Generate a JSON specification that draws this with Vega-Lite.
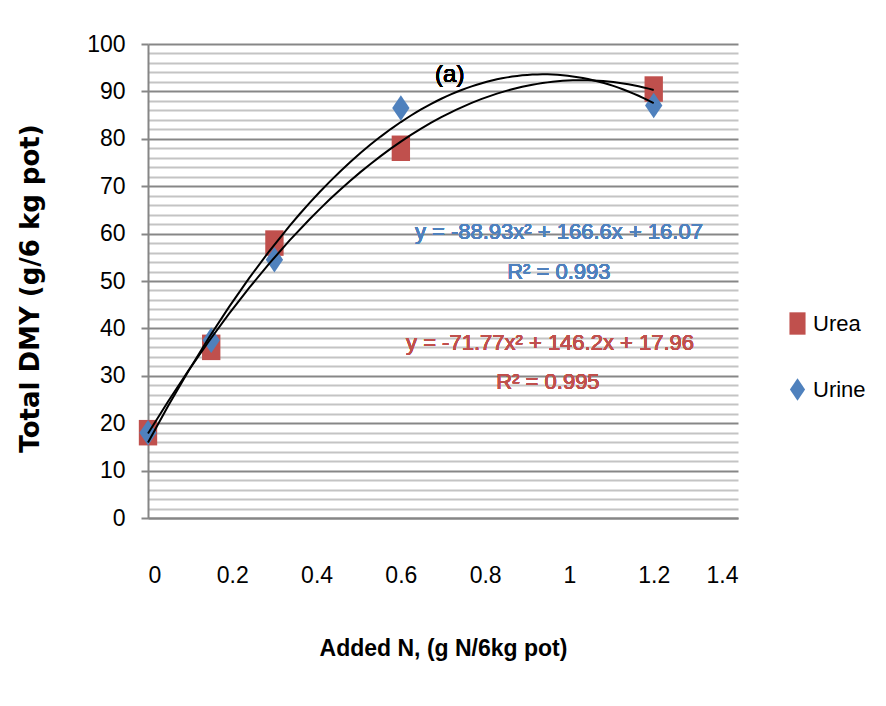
{
  "$schema": "https://vega.github.io/schema/vega-lite/v6.json",
  "autosize": {"type": "none"},
  "width": 590,
  "height": 474,
  "padding": {"left": 148, "top": 44, "right": 148, "bottom": 188},
  "background": "white",
  "config": {
    "view": {"stroke": null},
    "font": "Liberation Sans",
    "axis": {"labelFont": "Liberation Sans", "titleFont": "Liberation Sans"}
  },
  "data": {
    "values": [
      {"N": 0, "DMY": 18, "Treatment": "Urea"},
      {"N": 0.15, "DMY": 36, "Treatment": "Urea"},
      {"N": 0.3, "DMY": 58, "Treatment": "Urea"},
      {"N": 0.6, "DMY": 78, "Treatment": "Urea"},
      {"N": 1.2, "DMY": 90.5, "Treatment": "Urea"},
      {"N": 0, "DMY": 18, "Treatment": "Urine"},
      {"N": 0.15, "DMY": 37.5, "Treatment": "Urine"},
      {"N": 0.3, "DMY": 54.5, "Treatment": "Urine"},
      {"N": 0.6, "DMY": 86.5, "Treatment": "Urine"},
      {"N": 1.2, "DMY": 87, "Treatment": "Urine"}
    ]
  },
  "layer": [
    {
      "mark": {"type": "point", "filled": true, "opacity": 1, "strokeWidth": 0},
      "encoding": {
        "x": {
          "field": "N", "type": "quantitative",
          "scale": {"domain": [0, 1.4], "nice": false, "zero": false},
          "axis": {
            "title": "Added N,  (g N/6kg pot)",
            "values": [0, 0.2, 0.4, 0.6, 0.8, 1, 1.2, 1.4],
            "tickCount": 20,
            "format": ".1~f",
            "grid": false,
            "ticks": false,
            "domainColor": "#868686",
            "domainWidth": 2,
            "labelFontSize": 23,
            "labelColor": "#000000",
            "labelPadding": 46,
            "titleFontSize": 23,
            "titleFontWeight": "bold",
            "titleColor": "#000000",
            "titlePadding": 50
          }
        },
        "y": {
          "field": "DMY", "type": "quantitative",
          "scale": {"domain": [0, 100], "nice": false},
          "axis": {
            "title": "Total DMY  (g/6 kg pot)",
            "titleFont": "DejaVu Sans",
            "titleFontWeight": "bold",
            "titleFontSize": 26,
            "titleColor": "#000000",
            "titleAngle": 270,
            "titleX": -118,
            "titleY": 244,
            "titleAlign": "center",
            "titleBaseline": "middle",
            "values": [0,2,4,6,8,10,12,14,16,18,20,22,24,26,28,30,32,34,36,38,40,42,44,46,48,50,52,54,56,58,60,62,64,66,68,70,72,74,76,78,80,82,84,86,88,90,92,94,96,98,100],
            "tickCount": 100,
            "labelExpr": "datum.value % 10 === 0 ? datum.label : ''",
            "labelOverlap": false,
            "labelFontSize": 23,
            "labelColor": "#000000",
            "labelPadding": 16,
            "grid": true,
            "gridColor": {"condition": {"test": "datum.value % 10 === 0", "value": "#878787"}, "value": "#c4c4c4"},
            "gridWidth": 2,
            "gridOpacity": 1,
            "tickSize": 7,
            "tickColor": "#868686",
            "tickWidth": 2,
            "tickOpacity": {"condition": {"test": "datum.value % 10 === 0", "value": 1}, "value": 0},
            "domainColor": "#868686",
            "domainWidth": 2
          }
        },
        "color": {
          "field": "Treatment", "type": "nominal",
          "scale": {"domain": ["Urea", "Urine"], "range": ["#C0504D", "#4F81BD"]},
          "legend": {
            "title": null,
            "orient": "none",
            "legendX": 638,
            "legendY": 268,
            "labelFontSize": 22,
            "labelColor": "#000000",
            "labelFont": "Liberation Sans",
            "symbolSize": 500,
            "rowPadding": 43,
            "labelOffset": 4,
            "symbolStrokeWidth": 0
          }
        },
        "shape": {
          "field": "Treatment", "type": "nominal",
          "scale": {"domain": ["Urea", "Urine"], "range": ["M-0.72,-1L0.72,-1L0.72,1L-0.72,1Z", "M-0.68,0L0,-1L0.68,0L0,1Z"]}
        },
        "size": {"value": 650}
      }
    },
    {
      "transform": [
        {"regression": "DMY", "on": "N", "groupby": ["Treatment"], "method": "poly", "order": 2, "extent": [0, 1.2]}
      ],
      "mark": {"type": "line", "color": "#000000", "strokeWidth": 2},
      "encoding": {
        "x": {"field": "N", "type": "quantitative"},
        "y": {"field": "DMY", "type": "quantitative"},
        "detail": {"field": "Treatment", "type": "nominal"}
      }
    },
    {
      "mark": {"type": "text", "fontSize": 24, "fontWeight": "normal", "color": "#000000", "align": "center", "baseline": "middle", "font": "Liberation Sans"},
      "encoding": {
        "x": {"datum": 0.716},
        "y": {"datum": 93.5},
        "text": {"value": "(a)"}
      }
    },
    {
      "mark": {"type": "text", "fontSize": 22, "fontWeight": "normal", "color": "#4F81BD", "align": "center", "baseline": "middle", "font": "Liberation Sans"},
      "encoding": {
        "x": {"datum": 0.975},
        "y": {"datum": 60.3},
        "text": {"value": "y = -88.93x² + 166.6x + 16.07"}
      }
    },
    {
      "mark": {"type": "text", "fontSize": 22, "fontWeight": "normal", "color": "#4F81BD", "align": "center", "baseline": "middle", "font": "Liberation Sans"},
      "encoding": {
        "x": {"datum": 0.975},
        "y": {"datum": 51.8},
        "text": {"value": "R² = 0.993"}
      }
    },
    {
      "mark": {"type": "text", "fontSize": 22, "fontWeight": "normal", "color": "#C0504D", "align": "center", "baseline": "middle", "font": "Liberation Sans"},
      "encoding": {
        "x": {"datum": 0.954},
        "y": {"datum": 37.0},
        "text": {"value": "y = -71.77x² + 146.2x + 17.96"}
      }
    },
    {
      "mark": {"type": "text", "fontSize": 22, "fontWeight": "normal", "color": "#C0504D", "align": "center", "baseline": "middle", "font": "Liberation Sans"},
      "encoding": {
        "x": {"datum": 0.949},
        "y": {"datum": 28.6},
        "text": {"value": "R² = 0.995"}
      }
    }
  ]
}
